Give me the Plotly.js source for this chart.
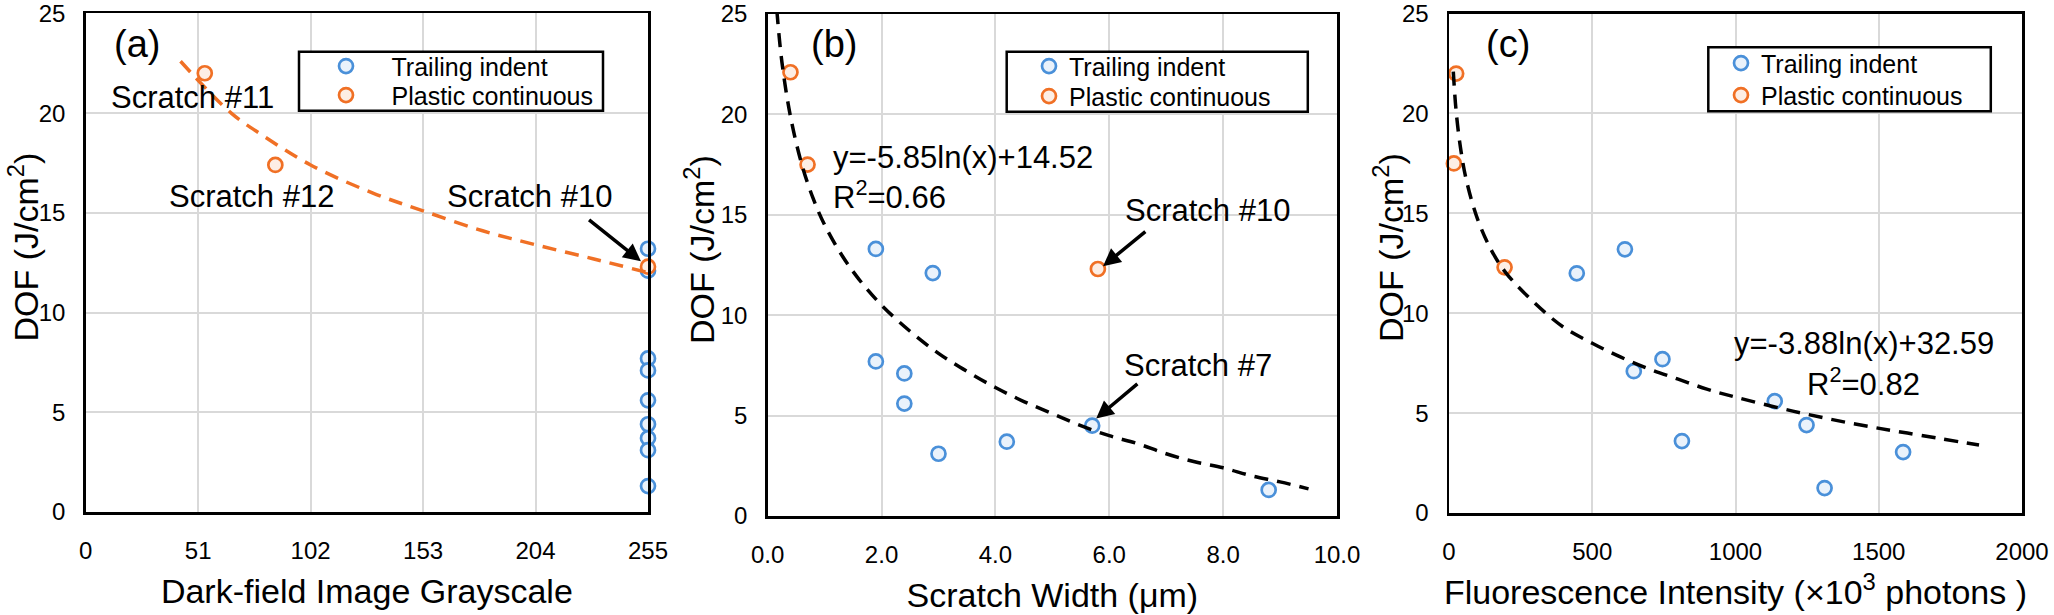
<!DOCTYPE html>
<html>
<head>
<meta charset="utf-8">
<script src="https://cdn.plot.ly/plotly-3.0.1.min.js"></script>
<style>html,body{margin:0;padding:0;background:#fff;}#chart{width:2054px;height:615px;}</style>
</head>
<body>
<div id="chart"></div>
<script>
// ---------- data ----------
// (a) Dark-field image grayscale
const aTrailX = [255, 255, 255, 255, 255, 255, 255, 255, 255];
const aTrailY = [13.2, 12.1, 7.7, 7.1, 5.6, 4.4, 3.7, 3.1, 1.3];
const aPlasticX = [54, 86, 255];
const aPlasticY = [22.0, 17.4, 12.3];
const aFitX = [43, 66, 80, 102, 130, 153, 180, 204, 230, 255];
const aFitY = [22.6, 20.0, 18.9, 17.4, 16.0, 15.1, 14.1, 13.4, 12.7, 12.0];

// (b) Scratch width (um)
const bTrailX = [1.9, 2.9, 1.9, 2.4, 2.4, 3.0, 4.2, 5.7, 8.8];
const bTrailY = [13.3, 12.1, 7.7, 7.1, 5.6, 3.1, 3.7, 4.5, 1.3];
const bPlasticX = [0.4, 0.7, 5.8];
const bPlasticY = [22.1, 17.5, 12.3];
const bFitX = [0.16, 0.25, 0.4, 0.6, 0.8, 1.0, 1.3, 1.6, 2.0, 2.5, 3.0, 3.5, 4.0, 4.5, 5.0, 5.5, 6.0, 6.5, 7.0, 7.5, 8.0, 8.5, 9.0, 9.5];
const bFitY = [25.2, 22.6, 19.9, 17.5, 15.8, 14.5, 13.0, 11.8, 10.5, 9.2, 8.1, 7.2, 6.4, 5.7, 5.1, 4.5, 4.0, 3.6, 3.1, 2.7, 2.4, 2.0, 1.7, 1.35];

// (c) Fluorescence intensity (x10^3 photons)
const cTrailX = [446, 614, 645, 745, 813, 1137, 1248, 1311, 1585];
const cTrailY = [12.0, 13.2, 7.1, 7.7, 3.6, 5.6, 4.4, 1.25, 3.05];
const cPlasticX = [25, 17, 194];
const cPlasticY = [22.0, 17.5, 12.3];
const cFitX = [15, 25, 40, 60, 100, 150, 200, 300, 400, 500, 600, 700, 800, 900, 1000, 1200, 1400, 1600, 1850];
const cFitY = [22.1, 20.1, 18.3, 16.7, 14.7, 13.1, 12.0, 10.5, 9.3, 8.5, 7.8, 7.2, 6.7, 6.2, 5.8, 5.1, 4.5, 4.0, 3.4];

const seriesNames = ['Trailing indent', 'Plastic continuous'];
const xTicksA = [0, 51, 102, 153, 204, 255];
const xTicksB = [0, 2, 4, 6, 8, 10];
const xTicksC = [0, 500, 1000, 1500, 2000];
const yTicks = [0, 5, 10, 15, 20, 25];

// ---------- styling ----------
const W = 2054, H = 615;
const FONT = 'Liberation Sans, Arial, sans-serif';
const BLUE = '#4A90D9', ORANGE = '#F07025';
const BLUE_FILL = '#EAF2FB', ORANGE_FILL = '#FDEEE5';
const px = v => v / W;
const py = v => 1 - v / H;

function markerTrace(x, y, name, color, fill, xa, ya, legend) {
  return {
    x: x, y: y, name: name, type: 'scatter', mode: 'markers',
    xaxis: xa, yaxis: ya, legend: legend, showlegend: true, cliponaxis: false,
    marker: {symbol: 'circle', size: 14, color: fill, line: {color: color, width: 2.7}}
  };
}
function fitTrace(x, y, color, xa, ya) {
  return {
    x: x, y: y, type: 'scatter', mode: 'lines', line: {color: color, width: 3.5, dash: '14px,9px', shape: 'spline'},
    xaxis: xa, yaxis: ya, showlegend: false, hoverinfo: 'skip'
  };
}

const traces = [
  markerTrace(aTrailX, aTrailY, seriesNames[0], BLUE, BLUE_FILL, 'x', 'y', 'legend'),
  markerTrace(aPlasticX, aPlasticY, seriesNames[1], ORANGE, ORANGE_FILL, 'x', 'y', 'legend2'),
  fitTrace(aFitX, aFitY, ORANGE, 'x', 'y'),
  markerTrace(bTrailX, bTrailY, seriesNames[0], BLUE, BLUE_FILL, 'x2', 'y2', 'legend3'),
  markerTrace(bPlasticX, bPlasticY, seriesNames[1], ORANGE, ORANGE_FILL, 'x2', 'y2', 'legend4'),
  fitTrace(bFitX, bFitY, '#000000', 'x2', 'y2'),
  markerTrace(cTrailX, cTrailY, seriesNames[0], BLUE, BLUE_FILL, 'x3', 'y3', 'legend5'),
  markerTrace(cPlasticX, cPlasticY, seriesNames[1], ORANGE, ORANGE_FILL, 'x3', 'y3', 'legend6'),
  fitTrace(cFitX, cFitY, '#000000', 'x3', 'y3')
];

function xAxis(domain, range, tickvals, fmt, title, anchor) {
  return {
    domain: domain, range: range, tickvals: tickvals, tickformat: fmt, anchor: anchor,
    showline: true, mirror: true, linecolor: '#000', linewidth: 2.5,
    showgrid: true, gridcolor: '#d9d9d9', gridwidth: 2, zeroline: false,
    ticks: '', ticklabelstandoff: 16, ticklabeloverflow: 'allow',
    tickfont: {family: FONT, size: 24, color: '#000'},
    title: {text: title, font: {family: FONT, size: 34, color: '#000'}, standoff: 16},
    automargin: false, fixedrange: true
  };
}
function yAxis(domain, anchor) {
  return {
    domain: domain, range: [0, 25], tickvals: yTicks, anchor: anchor,
    showline: true, mirror: true, linecolor: '#000', linewidth: 2.5,
    showgrid: true, gridcolor: '#d9d9d9', gridwidth: 2, zeroline: false,
    ticks: '', ticklabelstandoff: 13, ticklabeloverflow: 'allow',
    tickfont: {family: FONT, size: 24, color: '#000'},
    automargin: false, fixedrange: true
  };
}
// one borderless legend per entry, placed inside a drawn legend frame
function legendEntry(left, top, itemwidth) {
  return {
    x: px(left), y: py(top), xanchor: 'left', yanchor: 'top', xref: 'paper', yref: 'paper',
    bgcolor: 'rgba(0,0,0,0)', borderwidth: 0,
    font: {family: FONT, size: 25, color: '#000'}, itemwidth: itemwidth
  };
}
function frame(x0, y0, x1, y1) {
  return {type: 'rect', xref: 'paper', yref: 'paper', x0: px(x0), x1: px(x1), y0: py(y0), y1: py(y1),
    line: {color: '#000', width: 2.5}, fillcolor: '#fff', layer: 'above'};
}
function txt(text, x, y, size, xanchor, angle) {
  return {text: text, x: px(x), y: py(y), xref: 'paper', yref: 'paper', showarrow: false,
    xanchor: xanchor || 'center', yanchor: 'middle', textangle: angle || 0,
    font: {family: FONT, size: size, color: '#000'}};
}
function arrow(xr, yr, hx, hy, tx, ty) {
  return {text: '', x: hx, y: hy, ax: tx, ay: ty, xref: xr, yref: yr, axref: xr, ayref: yr,
    showarrow: true, arrowhead: 2, arrowsize: 1, arrowwidth: 3.5, arrowcolor: '#000', standoff: 0};
}

const yTitle = 'DOF (J/cm<sup>2</sup>)';
const layout = {
  width: W, height: H, margin: {l: 0, r: 0, t: 0, b: 0},
  paper_bgcolor: '#fff', plot_bgcolor: '#fff', font: {family: FONT, color: '#000'},
  xaxis: xAxis([px(85.7), px(648)], [0, 255], xTicksA, 'd', 'Dark-field Image Grayscale', 'y'),
  yaxis: yAxis([1 - 512 / H, 1 - 13.4 / H], 'x'),
  xaxis2: xAxis([px(767.7), px(1337)], [0, 10], xTicksB, '.1f', 'Scratch Width (μm)', 'y2'),
  yaxis2: yAxis([1 - 516 / H, 1 - 14 / H], 'x2'),
  xaxis3: xAxis([px(1449), px(2022)], [0, 2000], xTicksC, 'd', 'Fluorescence Intensity (×10<sup>3</sup> photons )', 'y3'),
  yaxis3: yAxis([1 - 513 / H, 1 - 13.6 / H], 'x3'),
  legend: legendEntry(300.5, 43.3, 81),
  legend2: legendEntry(300.5, 72.3, 81),
  legend3: legendEntry(1029, 43.3, 30),
  legend4: legendEntry(1029, 73.3, 30),
  legend5: legendEntry(1721, 40.3, 30),
  legend6: legendEntry(1721, 72.3, 30),
  shapes: [
    frame(299, 51.7, 603, 110.7),
    frame(1006.7, 51.7, 1307.8, 111.7),
    frame(1708.3, 47.3, 1990.8, 111.3)
  ],
  annotations: [
    txt(yTitle, 22.5, 247, 34, 'center', -90),
    txt(yTitle, 699, 250, 34, 'center', -90),
    txt(yTitle, 1388, 248, 34, 'center', -90),
    txt('(a)', 136.7, 44, 38), txt('(b)', 833.5, 44, 38), txt('(c)', 1508, 44, 38),
    txt('Scratch #11', 192.5, 97, 31), txt('Scratch #12', 251.5, 196, 31), txt('Scratch #10', 529.5, 196, 31),
    txt('Scratch #10', 1207.5, 211, 31), txt('Scratch #7', 1197.5, 365, 31),
    txt('y=-5.85ln(x)+14.52', 830.5, 158, 31, 'left'), txt('R<sup>2</sup>=0.66', 830.5, 195, 31, 'left'),
    txt('y=-3.88ln(x)+32.59', 1863.5, 343, 31), txt('R<sup>2</sup>=0.82', 1863.5, 381.5, 31),
    arrow('x', 'y', 251.8, 12.57, 227.6, 14.71),
    arrow('x2', 'y2', 5.89, 12.44, 6.66, 14.22),
    arrow('x2', 'y2', 5.77, 4.86, 6.52, 6.64)
  ]
};

Plotly.newPlot('chart', traces, layout, {staticPlot: true, displayModeBar: false});
</script>
</body>
</html>
